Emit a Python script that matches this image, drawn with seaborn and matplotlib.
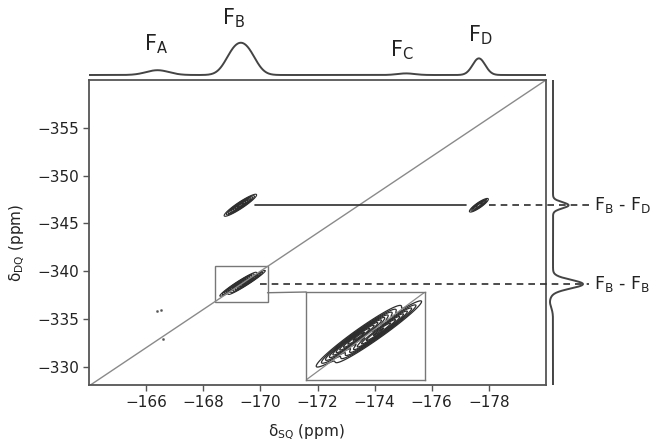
import numpy as np
import pandas as pd
import matplotlib
matplotlib.use('Agg')
import matplotlib.pyplot as plt
import seaborn as sns
from matplotlib.patches import Rectangle, ConnectionPatch

# ---- veriler ----
# 1D SQ projeksiyonu (ust) - F_B iki bilesenle (duz tepe)
sq_labels = ['A', 'B', 'C', 'D']
sq_label_pos = [-166.35, -169.05, -174.95, -177.7]
sq_label_top = [0.15, 1.0, 0.05, 0.52]
sq_centers = [-166.4, -169.08, -169.55, -175.1, -177.65]
sq_heights = [0.15, 0.66, 0.66, 0.05, 0.52]
sq_sigmas = [0.40, 0.32, 0.32, 0.30, 0.22]

# 1D DQ projeksiyonu (sag)
dq_names = ['F$_\\mathrm{B}$ - F$_\\mathrm{D}$', 'F$_\\mathrm{B}$ - F$_\\mathrm{B}$']
dq_centers = [-346.9, -338.65, -336.8]
dq_heights = [0.52, 1.0, -0.1]
dq_sigmas = [0.32, 0.45, 0.6]

# 2D capraz pikler
cross_sq = [-169.3, -177.65, -169.22, -169.53]
cross_dq = [-346.9, -346.9, -338.64, -338.83]
cross_amp = [1.0, 0.7, 1.0, 0.85]
cross_len = [0.24, 0.15, 0.27, 0.28]
cross_wid = [0.17, 0.15, 0.13, 0.12]

# gurultu benzeri kucuk noktalar
speck_sq = [-166.38, -166.52, -166.6]
speck_dq = [-335.8, -335.9, -332.9]

# eksen araliklari
sq_lim = (-164.0, -180.0)
dq_lim = (-328.1, -360.0)
inset_sq = (-168.4, -170.25)
inset_dq = (-336.8, -340.5)
ridge_slope = 1.9

line_col = '#2e2e2e'
spine_col = '#555555'
text_col = '#222222'

sns.set_style('ticks')
plt.rcParams['font.family'] = ['DejaVu Sans']
plt.rcParams['mathtext.fontset'] = 'dejavusans'


def gauss1d(x, centers, heights, sigmas):
    y = np.zeros_like(x)
    for c, h, s in zip(centers, heights, sigmas):
        y += h * np.exp(-(x - c) ** 2 / (2 * s ** 2))
    return y


def spec2d(SQ, DQ):
    Z = np.zeros_like(SQ)
    for x0, y0, a, sa, sb in zip(cross_sq, cross_dq, cross_amp, cross_len, cross_wid):
        u = SQ - x0
        v = (DQ - y0) - ridge_slope * u
        Z += a * np.exp(-u ** 2 / (2 * sa ** 2) - v ** 2 / (2 * sb ** 2))
    return Z


W, H = 651, 441
fig = plt.figure(figsize=(W / 100, H / 100), dpi=100)

# ana 2D eksen
ax = fig.add_axes([89 / W, 1 - 385 / H, (546 - 89) / W, (385 - 80) / H])
sq_grid = np.linspace(sq_lim[0], sq_lim[1], 900)
dq_grid = np.linspace(dq_lim[0], dq_lim[1], 900)
SQ, DQ = np.meshgrid(sq_grid, dq_grid)
Z = spec2d(SQ, DQ)
ax.contour(SQ, DQ, Z, levels=[0.06, 0.12, 0.2, 0.3, 0.42, 0.56, 0.72, 0.88],
           colors=line_col, linewidths=0.8)
ax.plot([sq_lim[0], sq_lim[1]], [2 * sq_lim[0], 2 * sq_lim[1]], color='#8a8a8a', lw=1.0)
sns.scatterplot(x=speck_sq, y=speck_dq, ax=ax, s=3, color='#555555', edgecolor=None)

# F_B - F_D ve F_B - F_B baglanti cizgileri
ax.plot([cross_sq[0] - 0.5, cross_sq[1] + 0.45], [cross_dq[0], cross_dq[1]],
        color=line_col, lw=1.2)
ax.plot([cross_sq[1] - 0.35, -181.5], [dq_centers[0], dq_centers[0]], color=line_col,
        lw=1.2, ls=(0, (4, 3)), clip_on=False, zorder=5)
ax.plot([cross_sq[3] - 0.45, -181.5], [dq_centers[1], dq_centers[1]], color=line_col,
        lw=1.2, ls=(0, (4, 3)), clip_on=False, zorder=5)

ax.set_xlim(*sq_lim)
ax.set_ylim(*dq_lim)
ax.set_xticks([-166, -168, -170, -172, -174, -176, -178])
ax.set_yticks([-330, -335, -340, -345, -350, -355])
ax.set_xticklabels(['\u2212%d' % abs(t) for t in ax.get_xticks()])
ax.set_yticklabels(['\u2212%d' % abs(t) for t in ax.get_yticks()])
ax.tick_params(direction='out', length=4, width=1, color=spine_col,
               labelsize=11, labelcolor=text_col, pad=3)
for sp in ax.spines.values():
    sp.set_color(spine_col)
    sp.set_linewidth(1.3)
ax.set_xlabel('\u03b4$_\\mathrm{SQ}$ (ppm)', fontsize=11, color=text_col)
ax.set_ylabel('\u03b4$_\\mathrm{DQ}$ (ppm)', fontsize=11, color=text_col)
ax.xaxis.set_label_coords(0.475, -0.122)
ax.yaxis.set_label_coords(-0.135, 0.465)

# kucuk kutu
ax.add_patch(Rectangle((inset_sq[0], inset_dq[0]), inset_sq[1] - inset_sq[0],
                       inset_dq[1] - inset_dq[0], fill=False, ec='#777777', lw=1.0))

# buyutulmus ic grafik
axin = fig.add_axes([306 / W, 1 - 380 / H, (425 - 306) / W, (380 - 292) / H])
isq = np.linspace(inset_sq[0], inset_sq[1], 500)
idq = np.linspace(inset_dq[0], inset_dq[1], 500)
ISQ, IDQ = np.meshgrid(isq, idq)
axin.contour(ISQ, IDQ, spec2d(ISQ, IDQ),
             levels=[0.05, 0.1, 0.16, 0.24, 0.33, 0.43, 0.55, 0.68, 0.82, 0.95],
             colors=line_col, linewidths=0.9)
axin.plot([inset_sq[0], inset_sq[1]], [2 * inset_sq[0], 2 * inset_sq[1]],
          color='#8a8a8a', lw=0.9)
axin.set_xlim(*inset_sq)
axin.set_ylim(*inset_dq)
axin.set_xticks([])
axin.set_yticks([])
for sp in axin.spines.values():
    sp.set_color('#777777')
    sp.set_linewidth(1.0)

con = ConnectionPatch(xyA=(inset_sq[1], -337.75), coordsA=ax.transData,
                      xyB=(0, 1), coordsB=axin.transAxes, color='#777777', lw=1.0)
fig.add_artist(con)

# ust projeksiyon
axt = fig.add_axes([89 / W, 1 - 80 / H, (546 - 89) / W, 80 / H])
xs = np.linspace(sq_lim[0], sq_lim[1], 900)
top_df = pd.DataFrame({'sq': xs, 'I': gauss1d(xs, sq_centers, sq_heights, sq_sigmas)})
sns.lineplot(data=top_df, x='sq', y='I', ax=axt, color='#444444', lw=1.4,
             estimator=None, sort=False)
axt.set_xlim(*sq_lim)
axt.set_ylim(-5 / 32, 75 / 32)
axt.axis('off')
lab_gap = [0.45, 0.4, 0.35, 0.35]
for lab, c, h, g in zip(sq_labels, sq_label_pos, sq_label_top, lab_gap):
    axt.text(c, h + g, 'F$_\\mathrm{%s}$' % lab, ha='center', va='bottom',
             fontsize=15, color=text_col)

# sag projeksiyon
axr = fig.add_axes([547 / W, 1 - 385 / H, (W - 547) / W, (385 - 80) / H])
ys = np.linspace(dq_lim[0], dq_lim[1], 900)
right_df = pd.DataFrame({'dq': ys, 'I': gauss1d(ys, dq_centers, dq_heights, dq_sigmas)})
sns.lineplot(data=right_df, x='I', y='dq', ax=axr, color='#444444', lw=1.4,
             estimator=None, sort=False, orient='y')
axr.set_ylim(*dq_lim)
axr.set_xlim(-6 / 30, 98 / 30)
axr.axis('off')
for name, c in zip(dq_names, dq_centers[:2]):
    axr.text(1.38, c, name, ha='left', va='center', fontsize=12.5, color=text_col,
             clip_on=False)

fig.savefig('out.png', dpi=100)
